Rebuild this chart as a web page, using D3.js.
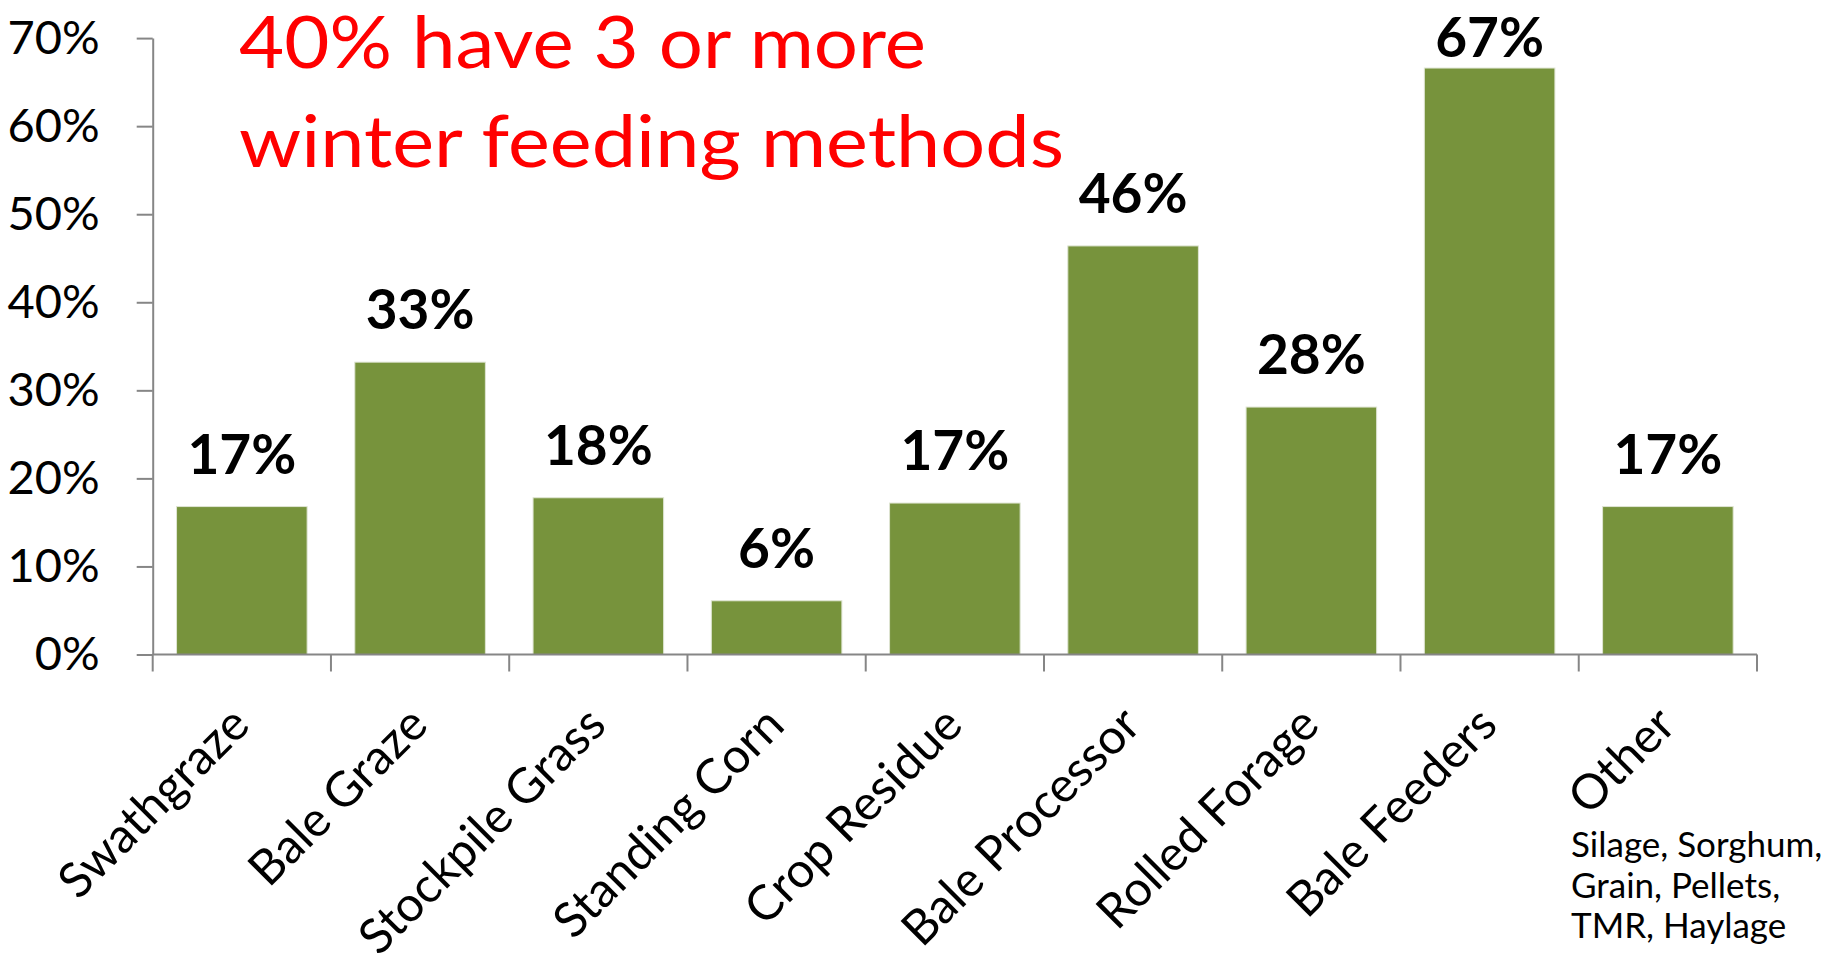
<!DOCTYPE html>
<html><head><meta charset="utf-8">
<script src="https://cdn.jsdelivr.net/npm/d3@7"></script>
<style>html,body{margin:0;padding:0;background:#fff;overflow:hidden}</style>
</head><body>
<svg id="chart" width="1827" height="954"></svg>
<script>
const categories = ["Swathgraze","Bale Graze","Stockpile Grass","Standing Corn","Crop Residue","Bale Processor","Rolled Forage","Bale Feeders","Other"];
const values = [16.8, 33.2, 17.8, 6.1, 17.2, 46.4, 28.1, 66.6, 16.8];
const yTicks = [0, 10, 20, 30, 40, 50, 60, 70];
const titleLines = ["40% have 3 or more", "winter feeding methods"];
const noteLines = ["Silage, Sorghum,", "Grain, Pellets,", "TMR, Haylage"];

const FONT = "Lato, 'Open Sans', sans-serif";
const AXIS = "#868686";
const BAR = "#77933C";

const svg = d3.select("#chart");
const plot = {left: 152.7, right: 1757, top: 38.1, bottom: 654.5};

const x = d3.scaleBand().domain(categories).range([plot.left, plot.right])
  .paddingInner(0.2675).paddingOuter(0.13375);
const y = d3.scaleLinear().domain([0, 70]).range([plot.bottom, plot.top]);

function fitWidth(sel, w) {
  sel.each(function(){ this.setAttribute("textLength", w); this.setAttribute("lengthAdjust", "spacingAndGlyphs"); });
}

// bars
svg.append("g").selectAll("rect").data(values).join("rect")
  .attr("x", (d,i) => x(categories[i]))
  .attr("width", x.bandwidth())
  .attr("y", d => y(d))
  .attr("height", d => y(0) - y(d))
  .attr("fill", BAR)
  .attr("stroke", "#dfe5d3").attr("stroke-width", 1);

// y axis
const yAxis = svg.append("g").attr("transform", `translate(${plot.left},0)`)
  .call(d3.axisLeft(y).tickValues(yTicks).tickSize(16).tickSizeOuter(0).tickPadding(37).tickFormat(d => d + "%"));
yAxis.select(".domain").attr("stroke", AXIS).attr("stroke-width", 2);
yAxis.selectAll(".tick line").attr("stroke", AXIS).attr("stroke-width", 2);
yAxis.selectAll(".tick text").attr("font-family", FONT).attr("font-size", 47).attr("fill", "#000");

// x axis line and boundary ticks
const gap = (x.step() - x.bandwidth()) / 2;
const bounds = categories.map(c => x(c) - gap).concat([x(categories[categories.length-1]) + x.bandwidth() + gap]);
const xAxis = svg.append("g");
xAxis.append("line").attr("x1", plot.left).attr("x2", plot.right).attr("y1", y(0)).attr("y2", y(0))
  .attr("stroke", AXIS).attr("stroke-width", 2);
xAxis.selectAll("line.tk").data(bounds).join("line").attr("class", "tk")
  .attr("x1", d => d).attr("x2", d => d).attr("y1", y(0)).attr("y2", y(0) + 17)
  .attr("stroke", AXIS).attr("stroke-width", 2);

// category labels
xAxis.selectAll("text.cat").data(categories).join("text").attr("class", "cat")
  .attr("transform", d => `translate(${x(d) + x.bandwidth()/2 + 10},${y(0) + 73}) rotate(-45)`)
  .attr("text-anchor", "end")
  .attr("font-family", FONT).attr("font-size", 48.5).attr("fill", "#000")
  .text(d => d);

// data labels
svg.append("g").selectAll("text").data(values).join("text")
  .attr("x", (d,i) => x(categories[i]) + x.bandwidth()/2)
  .attr("y", d => Math.max(y(d) - 33, 56.7))
  .attr("text-anchor", "middle")
  .attr("font-family", FONT).attr("font-weight", 700).attr("font-size", 55).attr("fill", "#000")
  .text(d => Math.round(d) + "%");

// title annotation
const title = svg.append("g");
const titleWidths = [687, 825];
title.selectAll("text").data(titleLines).join("text")
  .attr("x", 239).attr("y", (d,i) => 67.6 + i * 99)
  .attr("font-family", FONT).attr("font-size", 72).attr("fill", "#FF0000")
  .text(d => d)
  .each(function(d,i){ fitWidth(d3.select(this), titleWidths[i]); });

// note under "Other"
const note = svg.append("g");
note.selectAll("text").data(noteLines).join("text")
  .attr("x", 1571).attr("y", (d,i) => 857.3 + i * 40.5)
  .attr("font-family", FONT).attr("font-size", 35).attr("fill", "#000")
  .text(d => d);
</script>
</body></html>
